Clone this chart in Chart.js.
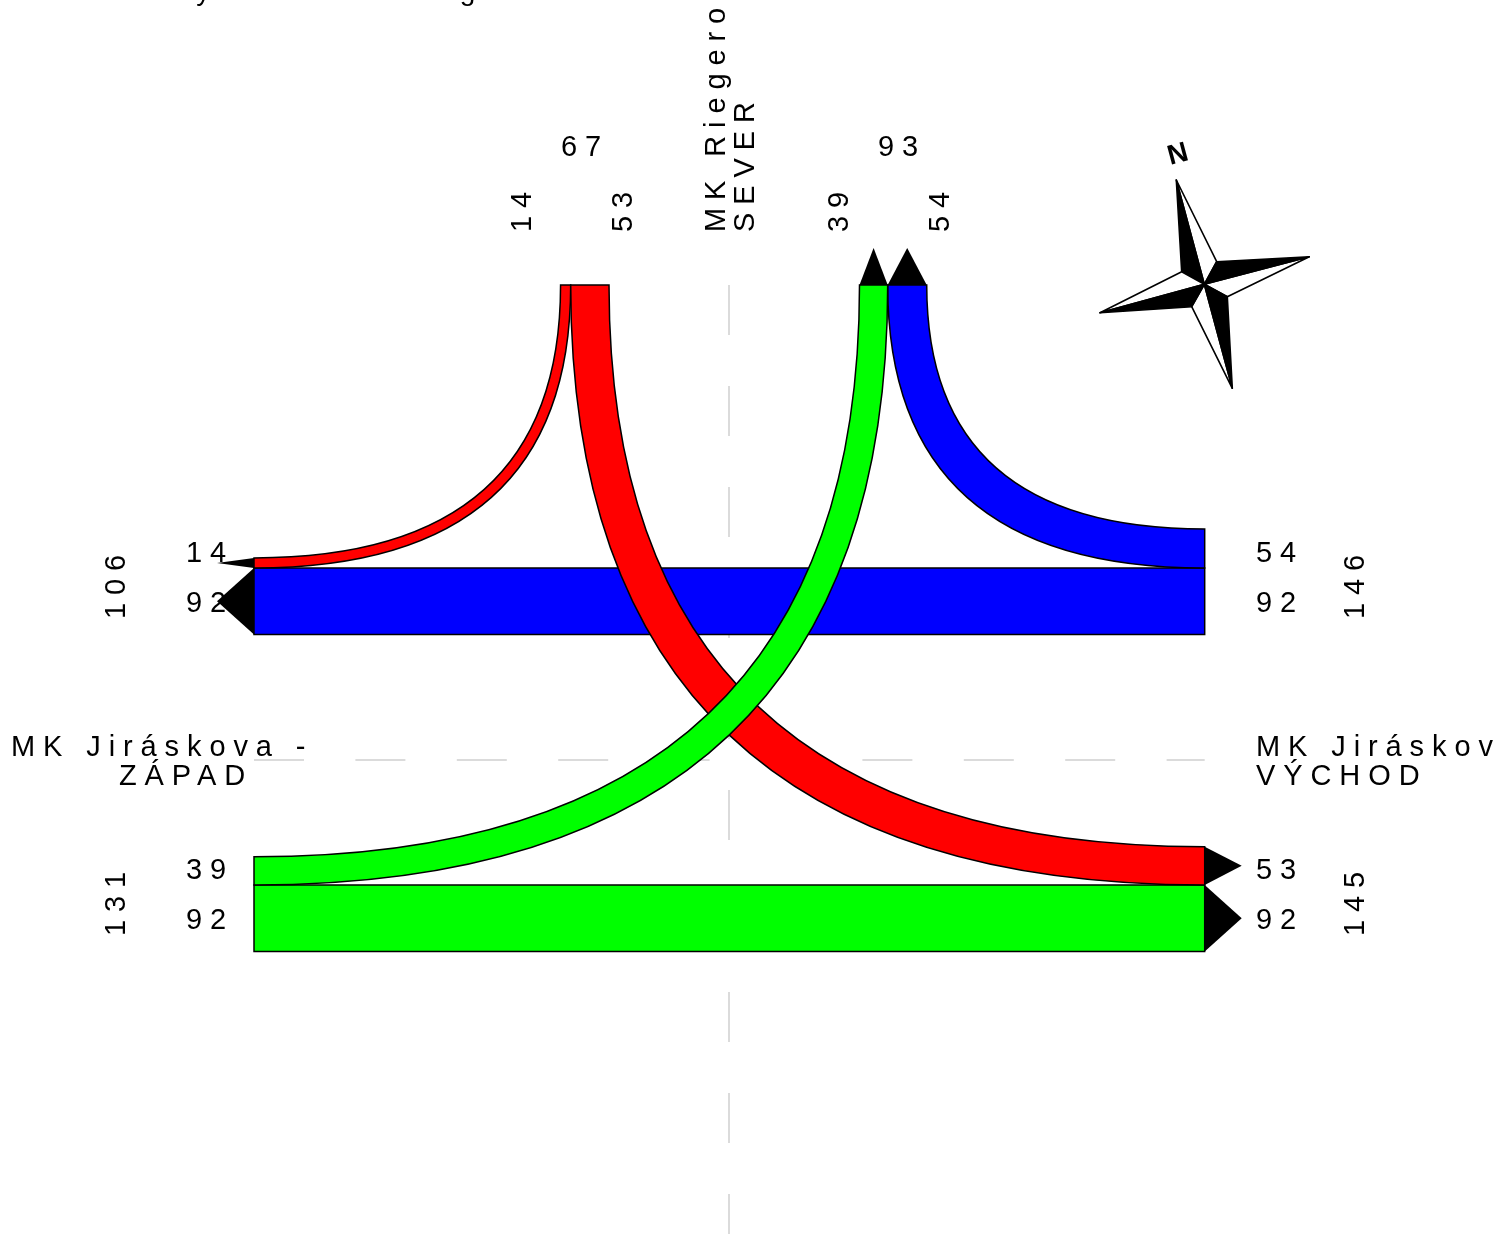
<!DOCTYPE html>
<html><head><meta charset="utf-8">
<style>html,body{margin:0;padding:0;background:#fff;overflow:hidden}canvas{display:block}</style>
<script src="https://cdn.jsdelivr.net/npm/chart.js@4"></script>
</head><body>
<div style="width:1509px;height:1234px"><canvas id="c" width="1509" height="1234"></canvas></div>
<script>
// Turning and through movements (vehicles)
const northToWest = 14, northToEast = 53;
const westToNorth = 39, eastToNorth = 54;
const eastToWest = 92, westToEast = 92;
// Arm totals and labels
const armTitles = ['MK Riegerova -', 'SEVER', 'MK Jiráskova -', 'ZÁPAD', 'MK Jiráskov', 'VÝCHOD'];
const pageTitle = 'Celkové intenzity MK Jiráskova x Riegerova';
const northTotals = ['67', '93'];
const westTotals = ['106', '131'];
const eastTotals = ['146', '145'];

const UNIT = 0.7228;            // band width per vehicle
const west = 254, east = 1204.7, north = 285;
const northLeft = 609, northRight = 859.5;
const upperBase = 634.5, lowerTop = 885;
const HEAD = 37;
const RED = '#ff0000', GREEN = '#00ff00', BLUE = '#0000ff';

function layout(){
  const w = v => v * UNIT;
  const uTop = upperBase - w(eastToWest);
  const lBot = lowerTop + w(westToEast);
  const nl1 = northLeft - w(northToEast), nl0 = nl1 - w(northToWest);
  const nr1 = northRight + w(westToNorth), nr2 = nr1 + w(eastToNorth);
  return {
    bars: [
      {c: BLUE,  x0: west, x1: east, y0: uTop, y1: upperBase},
      {c: GREEN, x0: west, x1: east, y0: lowerTop, y1: lBot}
    ],
    // ribbon: two quadratic edges, each bent around its own corner
    ribbons: [
      {c: BLUE,  a: [nr2, north, east, uTop - w(eastToNorth)], b: [nr1, north, east, uTop]},
      {c: RED,   a: [nl0, north, west, uTop - w(northToWest)], b: [nl1, north, west, uTop]},
      {c: RED,   a: [northLeft, north, east, lowerTop - w(northToEast)], b: [nl1, north, east, lowerTop]},
      {c: GREEN, a: [northRight, north, west, lowerTop - w(westToNorth)], b: [nr1, north, west, lowerTop]}
    ],
    heads: [
      {base: [[west, uTop - w(northToWest)], [west, uTop]], tip: [-HEAD, 0]},
      {base: [[west, uTop], [west, upperBase]], tip: [-HEAD, 0]},
      {base: [[east, lowerTop - w(northToEast)], [east, lowerTop]], tip: [HEAD, 0]},
      {base: [[east, lowerTop], [east, lBot]], tip: [HEAD, 0]},
      {base: [[northRight, north], [nr1, north]], tip: [0, -HEAD]},
      {base: [[nr1, north], [nr2, north]], tip: [0, -HEAD]}
    ]
  };
}

const compassTips = [[1176.3,180],[1309.3,256.7],[1232.3,388.3],[1100,312.7]];
const compassInner = [[1216.7,261.7],[1227.3,296.7],[1191.7,306.7],[1181.7,271.7]];
const compassCentre = [1204.3,284.3];

const drawing = {
  id: 'trafficDiagram',
  afterDatasetsDraw(chart){
    const {ctx, scales:{x, y}} = chart;
    const X = v => x.getPixelForValue(v), Y = v => y.getPixelForValue(v);
    const L = layout();
    ctx.save();
    ctx.lineWidth = 1.5; ctx.strokeStyle = '#000'; ctx.lineJoin = 'miter';
    L.bars.forEach(b => {
      ctx.fillStyle = b.c;
      ctx.beginPath();
      ctx.rect(X(b.x0), Y(b.y0), X(b.x1) - X(b.x0), Y(b.y1) - Y(b.y0));
      ctx.fill(); ctx.stroke();
    });
    L.ribbons.forEach(r => {
      const [ax, ay, aex, aey] = r.a, [bx, by, bex, bey] = r.b;
      ctx.fillStyle = r.c;
      ctx.beginPath();
      ctx.moveTo(X(ax), Y(ay));
      ctx.quadraticCurveTo(X(ax), Y(aey), X(aex), Y(aey));
      ctx.lineTo(X(bex), Y(bey));
      ctx.quadraticCurveTo(X(bx), Y(bey), X(bx), Y(by));
      ctx.closePath();
      ctx.fill(); ctx.stroke();
    });
    ctx.fillStyle = '#000';
    L.heads.forEach(h => {
      const [[x0, y0], [x1, y1]] = h.base;
      ctx.beginPath();
      ctx.moveTo(X(x0), Y(y0));
      ctx.lineTo(X((x0 + x1) / 2 + h.tip[0]), Y((y0 + y1) / 2 + h.tip[1]));
      ctx.lineTo(X(x1), Y(y1));
      ctx.closePath();
      ctx.fill();
    });
    // compass
    ctx.lineWidth = 1.6;
    ctx.lineJoin = 'round';
    compassTips.forEach((t, i) => {
      const next = compassInner[i], prev = compassInner[(i + 3) % 4];
      ctx.fillStyle = '#fff';
      ctx.beginPath();
      ctx.moveTo(X(t[0]), Y(t[1])); ctx.lineTo(X(next[0]), Y(next[1]));
      ctx.lineTo(X(compassCentre[0]), Y(compassCentre[1])); ctx.closePath();
      ctx.fill(); ctx.stroke();
      ctx.fillStyle = '#000';
      ctx.beginPath();
      ctx.moveTo(X(t[0]), Y(t[1])); ctx.lineTo(X(prev[0]), Y(prev[1]));
      ctx.lineTo(X(compassCentre[0]), Y(compassCentre[1])); ctx.closePath(); ctx.fill(); ctx.stroke();
    });
    // text
    ctx.fillStyle = '#000';
    ctx.textBaseline = 'alphabetic'; ctx.textAlign = 'left';
    const font = '29px "Liberation Sans"';
    const put = (s, px, py, rot, sp = '7.9px', f = font) => {
      ctx.save();
      ctx.font = f; ctx.letterSpacing = sp;
      ctx.translate(X(px), Y(py));
      if (rot) ctx.rotate(-Math.PI / 2);
      ctx.fillText(s, 0, 0);
      ctx.restore();
    };
    put(pageTitle, -3, 0, false, '0.1px', '28px "Liberation Sans"');
    put(armTitles[0], 725, 232, true);
    put(armTitles[1], 754, 232, true);
    put(armTitles[2], 11, 756);
    put(armTitles[3], 119, 785);
    put(armTitles[4], 1256, 756);
    put(armTitles[5], 1256, 785);
    put(northTotals[0], 561, 155.5);
    put(northTotals[1], 878, 155.5);
    put(String(northToWest), 530.5, 232, true);
    put(String(northToEast), 632, 232, true);
    put(String(westToNorth), 848, 232, true);
    put(String(eastToNorth), 949, 232, true);
    put(String(northToWest), 186, 562);
    put(String(eastToWest), 186, 612);
    put(String(westToNorth), 186, 879);
    put(String(westToEast), 186, 929);
    put(String(eastToNorth), 1256, 562);
    put(String(eastToWest), 1256, 612);
    put(String(northToEast), 1256, 879);
    put(String(westToEast), 1256, 929);
    put(westTotals[0], 124.5, 619, true);
    put(westTotals[1], 124.5, 936, true);
    put(eastTotals[0], 1363.5, 619, true);
    put(eastTotals[1], 1363.5, 936, true);
    // north mark
    ctx.save();
    ctx.font = 'bold 28px "Liberation Sans"';
    ctx.textAlign = 'center'; ctx.textBaseline = 'middle';
    ctx.translate(X(1178), Y(155));
    ctx.rotate(-15 * Math.PI / 180);
    ctx.fillText('N', 0, 0);
    ctx.restore();
    ctx.restore();
  }
};

new Chart(document.getElementById('c'), {
  type: 'scatter',
  data: { datasets: [
    { label: 'osa sever-jih', showLine: true, pointRadius: 0, borderColor: '#cfcfcf', borderWidth: 1.5,
      borderDash: [50, 51], clip: false, data: [{x: 729, y: north}, {x: 729, y: north + 951}] },
    { label: 'osa západ-východ', showLine: true, pointRadius: 0, borderColor: '#cfcfcf', borderWidth: 1.5,
      borderDash: [50, 51.4], clip: false, data: [{x: west, y: 760}, {x: east, y: 760}] }
  ]},
  options: {
    responsive: false, animation: false, devicePixelRatio: 1,
    layout: { padding: 0 },
    plugins: { legend: {display: false}, tooltip: {enabled: false}, title: {display: false} },
    scales: {
      x: { type: 'linear', display: false, min: 0, max: 1509 },
      y: { type: 'linear', display: false, min: 0, max: 1234, reverse: true }
    }
  },
  plugins: [drawing]
});
</script>
</body></html>
